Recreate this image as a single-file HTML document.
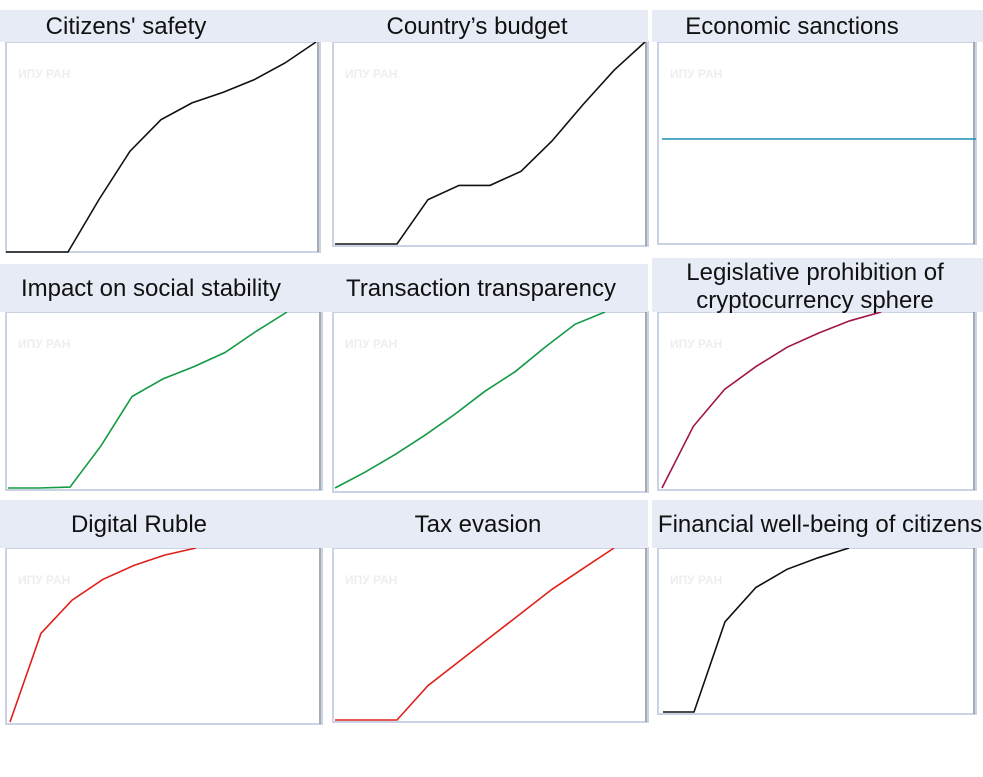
<!DOCTYPE html>
<html><head><meta charset="utf-8"><style>
body{margin:0;background:#fff;width:983px;height:777px;overflow:hidden;font-family:"Liberation Sans Narrow","Liberation Sans",sans-serif}
svg{position:absolute;left:0;top:0}
</style></head><body>
<svg id="c" width="983" height="777"></svg>
<script>
const titles=["Citizens' safety","Country’s budget","Economic sanctions","Impact on social stability","Transaction transparency","Legislative prohibition of|cryptocurrency sphere","Digital Ruble","Tax evasion","Financial well-being of citizens"];
const safety=[0,0,0,25,48,63,71,76,82,90,100];
const budget=[0,0,0,22,29,29,36,51,69,86,100];
const sanctions=[52,52,52,52,52,52,52,52,52,52,52];
const stability=[0,0,0.5,24,52,62,69,77,89,100];
const transparency=[0,9,19,30,42,55,66,80,93,100];
const prohibition=[0,35,56,69,80,88,95,100];
const ruble=[0,51,70,82,90,96,100];
const evasion=[0,0,0,20,34,48,62,76,88,100];
const wellbeing=[0,0,55,76,87,94,100];
const series=[safety,budget,sanctions,stability,transparency,prohibition,ruble,evasion,wellbeing];
const colors=["#111","#111","#1a8fb5","#139a45","#139a45","#a0164a","#e0201a","#e0201a","#111"];
const titleX=[126,477,792,151,481,815,139,478,820];
const L=[
[6,42,320,252,6,31,252,42,10,42,0,330],
[333,42,648,246,335,31,244,42,10,42,330,648],
[658,42,976,244,662,31.4,244,42,10,42,652,983],
[6,312,322,490,8,31,488,312,264,312,0,330],
[333,312,648,492,335,30,488,312,264,312,330,648],
[658,312,976,490,662,31.3,488,312,258,312,652,983],
[6,548,322,724,10,31,722,548,500,548,0,330],
[333,548,648,722,335,31,720,548,500,548,330,648],
[658,548,976,714,663,31,712,548,500,548,652,983]];
const ns="http://www.w3.org/2000/svg",svg=document.getElementById('c');
function mk(t,a,p){const e=document.createElementNS(ns,t);for(const k in a)e.setAttribute(k,a[k]);(p||svg).appendChild(e);return e;}
function sx(l,i){return l[4]+i*l[5];}
function sy(l,v){return l[6]-v/100*(l[6]-l[7]);}
L.forEach((l,k)=>{
  const g=mk('g',{});
  
  
  const bg=mk('rect',{x:l[0],y:l[1],width:l[2]-l[0],height:l[3]-l[1],fill:'#fff',stroke:'#c9d3e3','stroke-width':2},g);
  
  
  mk('line',{x1:l[2]-2,y1:l[1],x2:l[2]-2,y2:l[3],stroke:'#8a8f99','stroke-width':1.5},g);
  const wm=mk('text',{x:l[0]+12,y:l[1]+36,fill:'#eeeeee','font-size':12,'font-weight':'bold','font-family':'Liberation Sans, sans-serif'},g);
  wm.textContent='ИПУ РАН';
  
  
  const d=series[k].map((v,i)=>(i?'L':'M')+sx(l,i).toFixed(1)+','+sy(l,v).toFixed(1)).join(' ');
  const p=mk('path',{d:d,fill:'none',stroke:colors[k],'stroke-width':1.6},g);
  
  
  const bar=mk('rect',{x:l[10],y:l[8],width:l[11]-l[10],height:l[9]-l[8],fill:'#e6ebf6'},g);
  
  
  const lines=titles[k].split('|');
  const cx=titleX[k];
  lines.forEach((s,j)=>{
    const ty=lines.length==1?(l[8]+l[9])/2+8:l[8]+22+j*28;
    const t=mk('text',{x:cx,y:ty,'text-anchor':'middle','font-size':24,fill:'#111'},g);
    t.textContent=s;
    
    
  });
});
</script>
</body></html>
